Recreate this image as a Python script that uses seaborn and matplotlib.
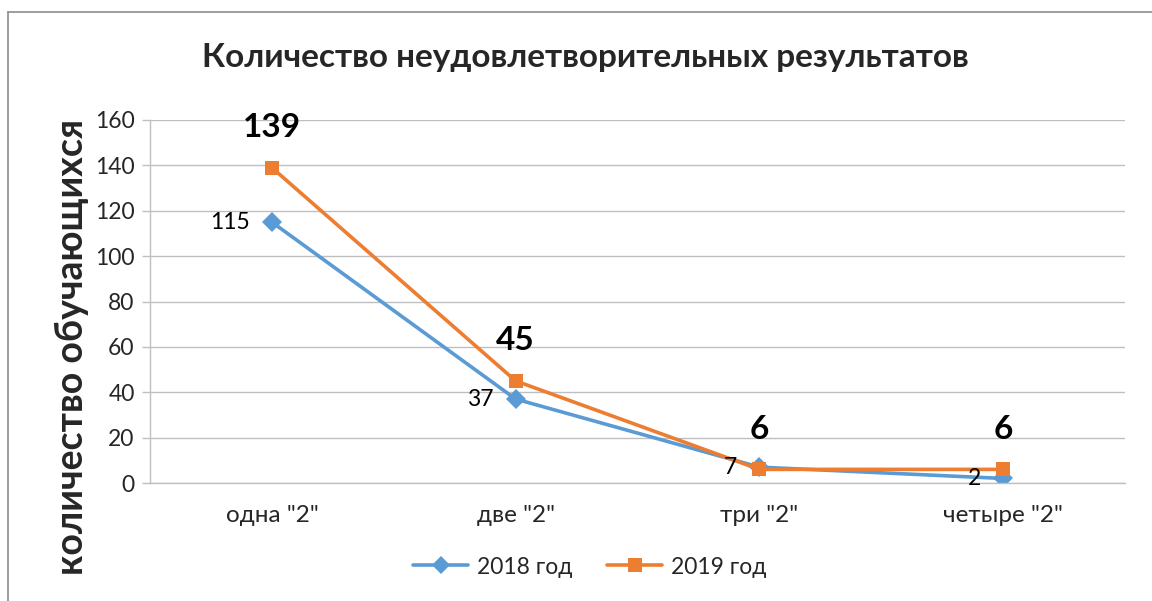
import pandas as pd
import matplotlib
matplotlib.use("Agg")
import matplotlib.pyplot as plt
from matplotlib.lines import Line2D
import seaborn as sns

# Data
categories = ['одна "2"', 'две "2"', 'три "2"', 'четыре "2"']
years = ["2018 год", "2019 год"]
values_2018 = [115, 37, 7, 2]
values_2019 = [139, 45, 6, 6]
y_ticks = [0, 20, 40, 60, 80, 100, 120, 140, 160]

title = "Количество неудовлетворительных результатов"
y_label = "количество обучающихся"

frame = pd.DataFrame({
    "cat": categories * 2,
    "pos": list(range(len(categories))) * 2,
    "value": values_2018 + values_2019,
    "year": [years[0]] * len(categories) + [years[1]] * len(categories),
})

sns.set_theme(style="white")
plt.rcParams['font.family'] = ['Lato', 'DejaVu Sans']

blue = "#5B9BD5"
orange = "#ED7D31"
grid_col = "#BFBFBF"

W, H = 1152, 601
fig = plt.figure(figsize=(W / 100, H / 100), dpi=100)
ax = fig.add_axes([150 / W, 1 - 483 / H, (1125 - 150) / W, (483 - 120) / H])

sns.lineplot(data=frame, x="pos", y="value", hue="year", style="year",
             markers={years[0]: "D", years[1]: "s"}, dashes=False,
             palette={years[0]: blue, years[1]: orange},
             linewidth=2.6, markersize=10, markeredgewidth=0, ax=ax, legend=False)

ax.set_xlim(-0.5, len(categories) - 0.5)
ax.set_ylim(0, 160)
ax.set_yticks(y_ticks)
ax.set_yticklabels([str(t) for t in y_ticks], fontsize=16.5)
ax.set_xticks(range(len(categories)))
ax.set_xticklabels(categories, fontsize=17.5)
ax.set_xticks([i - 0.5 for i in range(len(categories) + 1)], minor=True)
ax.tick_params(axis="x", which="major", length=0, pad=16)
ax.tick_params(axis="x", which="minor", length=7, color=grid_col, width=1)
ax.tick_params(axis="y", length=6, color=grid_col, width=1, pad=5, left=True)
ax.set_xlabel("")
ax.set_ylabel("")

ax.grid(axis="y", color=grid_col, linewidth=1)
ax.set_axisbelow(True)
for side in ["top", "right"]:
    ax.spines[side].set_visible(False)
for side in ["left", "bottom"]:
    ax.spines[side].set_color(grid_col)
    ax.spines[side].set_linewidth(1)

# data labels
for i, v in enumerate(values_2018):
    ax.annotate(str(v), (i, v), textcoords="offset pixels", xytext=(-22, 0),
                ha="right", va="center", fontsize=16.5, color="black")
for i, v in enumerate(values_2019):
    ax.annotate(str(v), (i, v), textcoords="offset pixels", xytext=(0, 40),
                ha="center", va="center", fontsize=24, fontweight="bold", color="black")

fig.text(585 / W, 1 - 57 / H, title, ha="center", va="center",
         fontsize=24, fontweight="bold")
fig.text(72 / W, 1 - 347 / H, y_label, ha="center", va="center",
         rotation=90, fontsize=27, fontweight="bold")

handles = [
    Line2D([], [], color=blue, marker="D", markersize=9, linewidth=2.6, markeredgewidth=0),
    Line2D([], [], color=orange, marker="s", markersize=10, linewidth=2.6, markeredgewidth=0),
]
fig.legend(handles, years, loc="center", bbox_to_anchor=(590 / W, 1 - 567 / H),
           ncol=2, frameon=False, fontsize=16.5, handlelength=2.4, columnspacing=1.5,
           handletextpad=0.4)

# chart frame
fig.add_artist(Line2D([8 / W, 1], [1 - 12 / H, 1 - 12 / H], color="#8C8C8C", linewidth=1.2))
fig.add_artist(Line2D([8 / W, 8 / W], [0, 1 - 12 / H], color="#8C8C8C", linewidth=1.2))

fig.savefig("out.png", dpi=100, facecolor="white")
